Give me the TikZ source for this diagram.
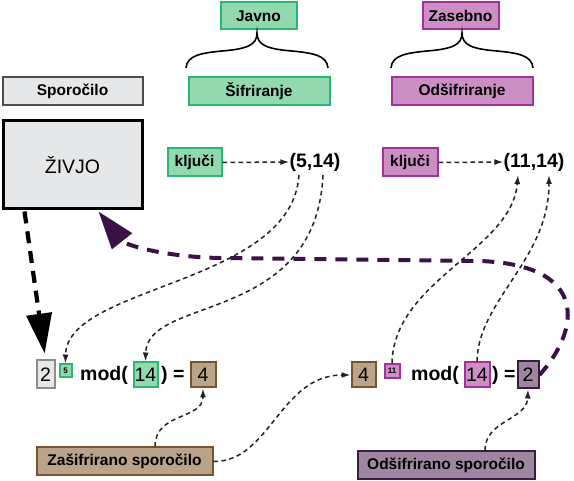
\documentclass[tikz,border=0pt]{standalone}
\usepackage{fontspec}
\setmainfont{Liberation Sans}
\usetikzlibrary{arrows.meta,calc}
\definecolor{gfill}{HTML}{93D9B0}
\definecolor{gline}{HTML}{2BB673}
\definecolor{pfill}{HTML}{CC8FC4}
\definecolor{pline}{HTML}{A2329A}
\definecolor{greyfill}{HTML}{E6E7E8}
\definecolor{greyline}{HTML}{4D4D4D}
\definecolor{greyline2}{HTML}{8C8C8C}
\definecolor{brfill}{HTML}{B9A38A}
\definecolor{brline}{HTML}{7A522E}
\definecolor{pufill}{HTML}{9C879F}
\definecolor{puline}{HTML}{3C1A47}
\definecolor{thickpu}{HTML}{3B1245}
\definecolor{conncol}{HTML}{222222}
\begin{document}
\begin{tikzpicture}[x=1pt,y=-1pt,
  lab/.style={font=\fontsize{15.5}{18}\selectfont\bfseries},
  big/.style={font=\fontsize{19.5}{22}\selectfont\bfseries},
  dig/.style={font=\fontsize{19.5}{22}\selectfont},
  tinyt/.style={font=\fontsize{8}{9}\selectfont\bfseries},
  bx/.style={line width=2pt, inner sep=0pt},
  gbox/.style={bx, draw=gline, fill=gfill},
  pbox/.style={bx, draw=pline, fill=pfill},
  greybox/.style={bx, draw=greyline, fill=greyfill},
  brbox/.style={bx, draw=brline, fill=brfill},
  pubox/.style={bx, draw=puline, fill=pufill},
  conn/.style={draw=conncol, line width=1.5pt, dash pattern=on 4.5pt off 3.5pt, -{Latex[length=9pt,width=6pt]}},
  thickblack/.style={draw=black, line width=4.2pt, dash pattern=on 12pt off 8pt, -{Triangle[length=40pt,width=25pt]}},
  thickpurple/.style={draw=thickpu, line width=4pt, dash pattern=on 12pt off 9pt, -{Triangle[length=38pt,width=25pt]}},
  brc/.pic={\draw[line width=1.6pt] (-71,35) .. controls (-70,22) and (-55,20) .. (-35,18) .. controls (-10,16) and (0,12) .. (0,0) .. controls (0,12) and (10,16) .. (35,18) .. controls (55,20) and (70,22) .. (71,35);}
]
\useasboundingbox (0,0) rectangle (574,481);

% top labels
\node[gbox, lab, minimum width=76, minimum height=27] (javno) at (258.5,16) {Javno};
\node[gbox, lab, minimum width=141, minimum height=28] (sif) at (259,91.5) {Šifriranje};
\node[pbox, lab, minimum width=76, minimum height=27] (zas) at (460.5,16) {Zasebno};
\node[pbox, lab, minimum width=141, minimum height=28] (odsif) at (462,91.5) {Odšifriranje};
\node[greybox, lab, minimum width=140, minimum height=28] (spor) at (72.5,91.5) {Sporočilo};
\pic at (257,33) {brc};
\pic at (462,33) {brc};

% message
\node[draw=black, fill=greyfill, line width=3pt, inner sep=0pt, minimum width=139, minimum height=88, font=\fontsize{19.5}{22}\selectfont] (zivjo) at (72.5,165) {ŽIVJO};

% keys
\node[gbox, lab, minimum width=54, minimum height=28] (kljg) at (194.5,162.5) {ključi};
\node[pbox, lab, minimum width=55, minimum height=28] (klpp) at (410,162.5) {ključi};
\node[big, inner sep=0pt] (t514) at (315,162) {(5,14)};
\node[big, inner sep=0pt] (t1114) at (534,162) {(11,14)};
\coordinate (k5) at (299,175);
\coordinate (k14a) at (323,175);
\coordinate (k11) at (518,175);
\coordinate (k14b) at (549,175);

% bottom left equation
\node[bx, draw=greyline2, fill=greyfill, dig, minimum width=18, minimum height=28] (b2) at (45.5,374.5) {2};
\node[gbox, tinyt, minimum width=12, minimum height=13] (b5) at (65.5,371) {5};
\node[big, inner sep=0pt, anchor=west] (mod1) at (80,375) {mod(};
\node[gbox, dig, minimum width=24, minimum height=25] (b14) at (145.5,375) {14};
\node[big, inner sep=0pt, anchor=west] (eq1) at (161,375) {) =};
\node[brbox, dig, minimum width=25, minimum height=25] (b4) at (203,375) {4};

% bottom right equation
\node[brbox, dig, minimum width=24, minimum height=25] (r4) at (363.5,375) {4};
\node[pbox, tinyt, minimum width=15, minimum height=14] (r11) at (392,371) {11};
\node[big, inner sep=0pt, anchor=west] (mod2) at (411,375) {mod(};
\node[pbox, dig, minimum width=25, minimum height=25] (r14) at (477,375) {14};
\node[big, inner sep=0pt, anchor=west] (eq2) at (492,375) {) =};
\node[pubox, dig, minimum width=21, minimum height=27] (r2) at (528,375) {2};

% result labels
\node[brbox, lab, minimum width=176, minimum height=28] (zsp) at (124.5,461.5) {Zašifrirano sporočilo};
\node[pubox, lab, minimum width=177, minimum height=28] (osp) at (446,465.5) {Odšifrirano sporočilo};

% connectors
\draw[conn] (kljg.east) -- (t514.west);
\draw[conn] (klpp.east) -- (t1114.west);
\draw[conn] (k5) .. controls (292,285) and (66,285) .. (b5.north);
\draw[conn] (k14a) .. controls (316,325) and (147,295) .. (b14.north);
\draw[conn] (zsp.north -| 155,0) .. controls (155,412) and (203,420) .. (b4.south);
\draw[conn] (zsp.east) .. controls (270,462) and (280,375) .. (r4.west);
\draw[conn] (r11.north) .. controls (394,280) and (512,250) .. (k11);
\draw[conn] (r14.north) .. controls (478,300) and (549,260) .. (k14b);
\draw[conn] (osp.north -| 485,0) .. controls (485,420) and (527,420) .. (r2.south);

\draw[thickblack, shorten >=6pt] ($(zivjo.south west)+(23,1)$) -- (b2.north);
\draw[thickpurple] (r2.east) .. controls (580,330) and (590,265) .. (480,261) -- (220,258) .. controls (165,257) and (125,245) .. ($(zivjo.south west)+(97,1)$);
\end{tikzpicture}
\end{document}
